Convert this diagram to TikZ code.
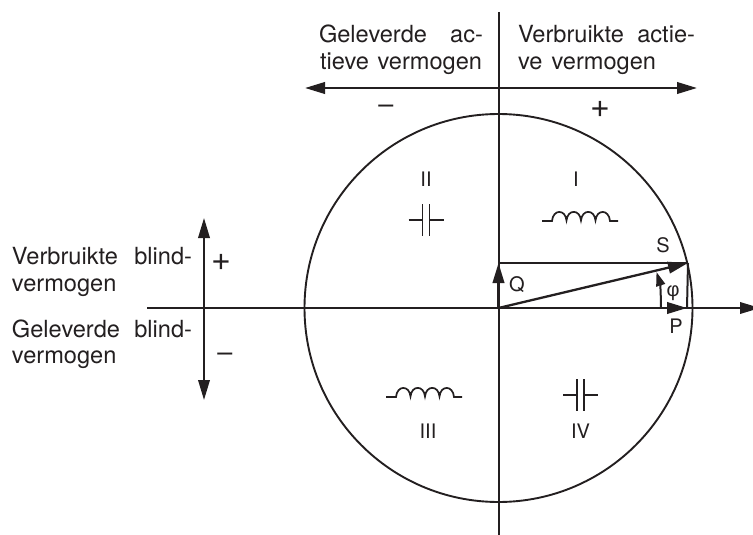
\documentclass[tikz,border=0pt]{standalone}
\usepackage{fontspec}
\setmainfont{TeX Gyre Heros}
\usetikzlibrary{arrows.meta}
\definecolor{ink}{HTML}{231F20}
\tikzset{
  x=1pt,y=-1pt,
  every node/.style={inner sep=0pt,outer sep=0pt,text=ink},
  lbl/.style={font=\fontsize{23.6}{23.6}\selectfont,anchor=base west},
  signlbl/.style={font=\fontsize{27}{27}\selectfont,anchor=center},
  pluslbl/.style={font=\fontsize{34}{34}\selectfont,anchor=center},
  sym/.style={font=\fontsize{20}{20}\selectfont,anchor=center},
  axis/.style={draw=ink,line width=2pt},
  thick line/.style={draw=ink,line width=2.3pt},
  tip/.style={-{Triangle[length=20pt,width=11.5pt]}},
  tips/.style={{Triangle[length=20pt,width=11.5pt]}-{Triangle[length=20pt,width=11.5pt]}},
  comp/.style={draw=ink,line width=1.7pt,line cap=butt},
}
\newcommand{\inductorat}[2]{%
  \draw[comp] (#1,#2) -- (#1+10,#2)
    .. controls (#1+11,#2-12) and (#1+23.5,#2-12) .. (#1+24.5,#2-0.5)
    .. controls (#1+25.5,#2-12) and (#1+38,#2-12) .. (#1+39,#2-0.5)
    .. controls (#1+40,#2-12) and (#1+52.5,#2-12) .. (#1+53.5,#2-0.5)
    .. controls (#1+54.5,#2-12) and (#1+67,#2-12) .. (#1+68,#2)
    -- (#1+76,#2);
}
\newcommand{\capacitorat}[2]{%
  \draw[comp] (#1-17.5,#2) -- (#1-3.5,#2);
  \draw[comp] (#1+3.5,#2) -- (#1+17.5,#2);
  \draw[comp] (#1-3.5,#2-16) -- (#1-3.5,#2+16);
  \draw[comp] (#1+3.5,#2-16) -- (#1+3.5,#2+16);
}
\begin{document}
\begin{tikzpicture}
\useasboundingbox (0,0) rectangle (753,535);
\clip (0,0) rectangle (753,535);
\coordinate (O) at (498.5,308);
\coordinate (axT) at (498.5,12);
\coordinate (axB) at (498.5,536);
\coordinate (axL) at (147,308);
\coordinate (axR) at (760,308);
\coordinate (topL) at (305,88);
\coordinate (topR) at (697,88);
\coordinate (leftT) at (204,218);
\coordinate (leftB) at (204,400);
\coordinate (S) at (688,263);
\coordinate (Qt) at (498.5,263);
\coordinate (Pt) at (687,308);
\coordinate (phiA) at (661,308);
\coordinate (phiB) at (656.5,272);

\node[draw=ink,line width=1.9pt,circle,minimum size=388pt] (circ) at (O) {};
\draw[axis] (axT) -- (axB);
\draw[axis,tip] (axL) -- (axR);
\draw[thick line,tips] (topL) -- (topR);
\draw[axis,tips] (leftT) -- (leftB);

\draw[thick line] (Qt) -- (S);
\draw[thick line,tip] (O) -- (Qt);
\draw[thick line,tip] (O) -- (S);
\draw[thick line,tip] (O) -- (Pt);
\draw[axis] (S) -- (Pt);
\draw[axis,-{Triangle[length=14pt,width=9pt]}] (phiA) .. controls (661,295) and (660,283) .. (phiB);

\node[lbl] (t1) at (319,43) {\hbox to 164pt{Geleverde\hfil ac-}};
\node[lbl] (t2) at (320,70) {\hbox to 162pt{tieve\hfil vermogen}};
\node[lbl] (t3) at (518,43) {\hbox to 177pt{Verbruikte\hfil actie-}};
\node[lbl] (t4) at (518,70) {\hbox to 138pt{ve\hfil vermogen}};
\node[lbl] (t5) at (12,264) {\hbox to 180pt{Verbruikte\hfil blind-}};
\node[lbl] (t6) at (12,291) {vermogen};
\node[lbl] (t7) at (12,337) {\hbox to 180pt{Geleverde\hfil blind-}};
\node[lbl] (t8) at (12,363) {vermogen};

\node[signlbl] (m1) at (386,109) {–};
\node[pluslbl] (p1) at (600,109) {+};
\node[pluslbl] (p2) at (221.5,262) {+};
\node[signlbl] (m2) at (225,357) {–};

\node[sym] (q2) at (426,179) {II};
\node[sym] (q1) at (576,179) {I};
\node[sym] (q3) at (428,431) {III};
\node[sym] (q4) at (580.5,431) {IV};
\node[sym] (lS) at (663,245) {S};
\node[sym] (lQ) at (517,285) {Q};
\node[sym] (lP) at (676,326) {P};
\node[sym] (lphi) at (673,293) {\fontspec{Liberation Sans}φ};

\capacitorat{426}{220}
\capacitorat{580.5}{395}
\inductorat{542}{221}
\inductorat{386}{397}
\end{tikzpicture}
\end{document}
